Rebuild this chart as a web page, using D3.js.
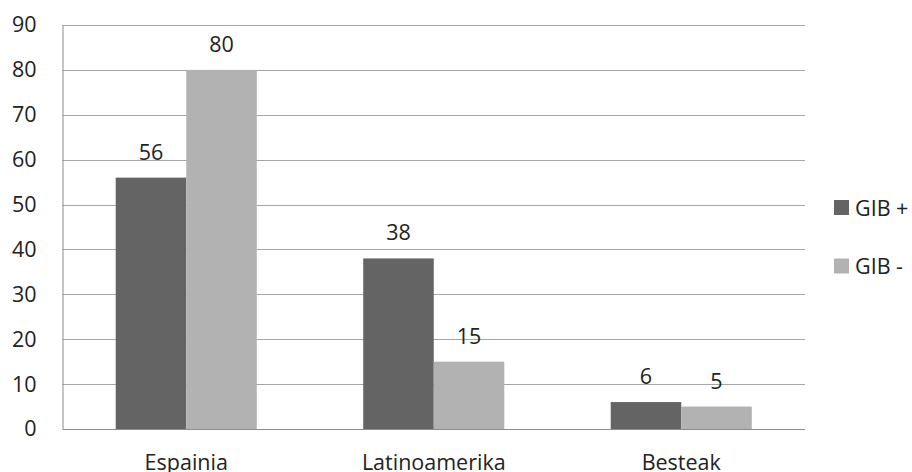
<!DOCTYPE html>
<html>
<head>
<meta charset="utf-8">
<script src="https://cdn.jsdelivr.net/npm/d3@7"></script>
<style>
  html, body { margin: 0; padding: 0; background: #fff; }
  svg { display: block; font-family: "Open Sans", "DejaVu Sans", sans-serif; }
</style>
</head>
<body>
<svg id="chart" width="912" height="472"></svg>
<script>
// Data
const categories = ["Espainia", "Latinoamerika", "Besteak"];
const seriesNames = ["GIB +", "GIB -"];
const gibPlus = [56, 38, 6];
const gibMinus = [80, 15, 5];
const yTicks = [0, 10, 20, 30, 40, 50, 60, 70, 80, 90];

const colors = ["#646464", "#b2b2b2"];
const seriesValues = [gibPlus, gibMinus];
const FS = 21.5;

const svg = d3.select("#chart");
const margin = { left: 62.5, right: 107, top: 25, bottom: 43 };
const W = 912, H = 472;
const plotW = W - margin.left - margin.right;
const plotH = H - margin.top - margin.bottom;

const g = svg.append("g").attr("transform", `translate(${margin.left},${margin.top})`);

const x = d3.scaleBand().domain(categories).range([0, plotW]).paddingInner(0.43).paddingOuter(0.215);
const xs = d3.scaleBand().domain(seriesNames).range([0, x.bandwidth()]);
const y = d3.scaleLinear().domain([0, 90]).range([plotH, 0]);

// Horizontal gridlines
g.append("g").selectAll("line").data(yTicks.filter(d => d > 0)).join("line")
  .attr("x1", 0).attr("x2", plotW)
  .attr("y1", d => Math.round(y(d)) + 0.5).attr("y2", d => Math.round(y(d)) + 0.5)
  .attr("stroke", "#a6a6a6").attr("stroke-width", 1);

// Y axis labels
const yAxis = d3.axisLeft(y).tickValues(yTicks).tickSize(0).tickPadding(26);
const ya = g.append("g").call(yAxis);
ya.select(".domain").remove();
ya.selectAll("text").attr("font-size", FS).attr("fill", "#222").attr("font-family", "Open Sans");

// Bars
const groups = g.append("g").selectAll("g").data(categories).join("g")
  .attr("transform", d => `translate(${x(d)},0)`);

groups.selectAll("rect").data((c, i) => seriesNames.map((s, k) => ({ s, v: seriesValues[k][i], k })))
  .join("rect")
  .attr("x", d => xs(d.s))
  .attr("width", xs.bandwidth())
  .attr("y", d => y(d.v))
  .attr("height", d => plotH - y(d.v))
  .attr("fill", d => colors[d.k]);

// Value labels
groups.selectAll("text").data((c, i) => seriesNames.map((s, k) => ({ s, v: seriesValues[k][i], k })))
  .join("text")
  .attr("x", d => xs(d.s) + xs.bandwidth() / 2)
  .attr("y", d => y(d.v) - 18)
  .attr("text-anchor", "middle")
  .attr("font-size", FS)
  .attr("fill", "#222")
  .text(d => d.v);

// Axis lines (left and bottom)
g.append("line").attr("x1", 0.5).attr("x2", 0.5).attr("y1", 0).attr("y2", plotH)
  .attr("stroke", "#8c8c8c");
g.append("line").attr("x1", 0).attr("x2", plotW).attr("y1", Math.round(plotH) + 0.5).attr("y2", Math.round(plotH) + 0.5)
  .attr("stroke", "#8c8c8c");

// Category labels
const xAxis = d3.axisBottom(x).tickSize(0).tickPadding(25.5);
const xa = g.append("g").attr("transform", `translate(0,${plotH})`).call(xAxis);
xa.select(".domain").remove();
xa.selectAll("text").attr("font-size", FS).attr("fill", "#222").attr("font-family", "Open Sans");

// Legend
const legend = svg.append("g").attr("transform", "translate(834,200)");
const li = legend.selectAll("g").data(seriesNames).join("g")
  .attr("transform", (d, i) => `translate(0,${i * 58.5})`);
li.append("rect").attr("width", 15).attr("height", 15).attr("fill", (d, i) => colors[i]);
li.append("text").attr("x", 21).attr("y", 15.5).attr("font-size", FS).attr("fill", "#222").text(d => d);
</script>
</body>
</html>
